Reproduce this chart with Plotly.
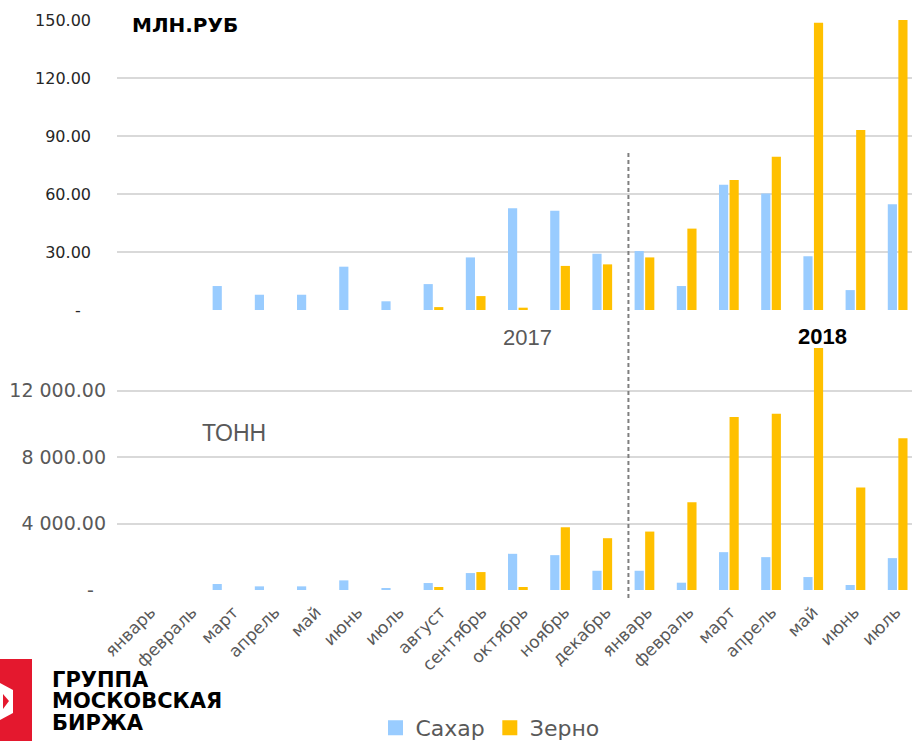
import plotly.graph_objects as go

months = ["январь", "февраль", "март", "апрель", "май", "июнь", "июль", "август",
          "сентябрь", "октябрь", "ноябрь", "декабрь",
          "январь", "февраль", "март", "апрель", "май", "июнь", "июль"]
x_idx = list(range(len(months)))

sugar_rub = [0, 0, 12.4, 7.9, 7.9, 22.4, 4.5, 13.4, 27.2, 52.6, 51.4, 29.1,
             30.5, 12.4, 64.8, 60.3, 27.8, 10.3, 54.7]
grain_rub = [0, 0, 0, 0, 0, 0, 0, 1.5, 7.2, 1.2, 22.8, 23.6,
             27.2, 42.1, 67.2, 79.3, 148.6, 93.1, 152.0]
sugar_t = [0, 0, 360, 220, 220, 580, 120, 420, 1020, 2180, 2100, 1160,
           1160, 440, 2280, 1980, 780, 300, 1920]
grain_t = [0, 0, 0, 0, 0, 0, 0, 180, 1080, 180, 3780, 3120,
           3520, 5280, 10420, 10620, 14600, 6180, 9150]

top_ticks = [0, 30, 60, 90, 120, 150]
top_ticktext = ["-\u00a0\u00a0", "30.00", "60.00", "90.00", "120.00", "150.00"]
bot_ticks = [0, 4000, 8000, 12000]
bot_ticktext = ["-\u00a0\u00a0", "4 000.00", "8 000.00", "12 000.00"]

BLUE = "#99CCFF"
GOLD = "#FFC000"
W, H = 912, 741


def px(x):
    return x / W


def py(y):
    return 1 - y / H


fig = go.Figure()
bar_line = dict(width=0)
fig.add_trace(go.Bar(x=x_idx, y=sugar_rub, name="Сахар", marker=dict(color=BLUE, line=bar_line),
                     xaxis="x", yaxis="y", showlegend=False))
fig.add_trace(go.Bar(x=x_idx, y=grain_rub, name="Зерно", marker=dict(color=GOLD, line=bar_line),
                     xaxis="x", yaxis="y", showlegend=False))
fig.add_trace(go.Bar(x=x_idx, y=sugar_t, name="Сахар", marker=dict(color=BLUE, line=bar_line),
                     xaxis="x2", yaxis="y2", showlegend=False))
fig.add_trace(go.Bar(x=x_idx, y=grain_t, name="Зерно", marker=dict(color=GOLD, line=bar_line),
                     xaxis="x2", yaxis="y2", showlegend=False))
# legend entries with square swatches (also carry the month-label axis)
for name, col in [("Сахар", BLUE), ("Зерно", GOLD)]:
    fig.add_trace(go.Scatter(x=[None], y=[None], mode="markers", name=name,
                             marker=dict(symbol="square", size=15, color=col),
                             xaxis="x3", yaxis="y2"))

xrange = [-0.5, 18.34]
label_range = [-0.81, 18.39]
grid = "#D9D9D9"
fig.update_layout(
    template="none",
    width=W, height=H,
    margin=dict(l=0, r=0, t=0, b=0, autoexpand=False),
    paper_bgcolor="white", plot_bgcolor="white",
    barmode="group", bargap=0.5, bargroupgap=0.13,
    font=dict(family="DejaVu Sans", color="#595959"),
    xaxis=dict(domain=[px(117), 1], range=xrange, anchor="y", automargin=False,
               showticklabels=False, showgrid=False, zeroline=False, showline=False, ticks=""),
    yaxis=dict(domain=[py(310), py(20)], range=[0, 150], anchor="x", automargin=False,
               tickvals=top_ticks, ticktext=top_ticktext,
               tickfont=dict(size=16, color="#262626", family="DejaVu Sans"),
               showgrid=True, gridcolor=grid, gridwidth=1.5,
               zeroline=False, showline=False, ticks="", ticklabelstandoff=25),
    xaxis2=dict(domain=[px(117), 1], range=xrange, anchor="y2", automargin=False,
                showticklabels=False, showgrid=False, zeroline=False, showline=False, ticks=""),
    xaxis3=dict(domain=[px(117), 1], range=label_range, anchor="y2", overlaying="x2",
                automargin=False, tickvals=x_idx, ticktext=months, tickangle=-45,
                tickfont=dict(size=17, color="#595959", family="DejaVu Sans"),
                showgrid=False, zeroline=False, showline=False, ticks="",
                ticklabelstandoff=8, ticklabeloverflow="allow"),
    yaxis2=dict(domain=[py(590), py(348)], range=[0, 14580], anchor="x2", automargin=False,
                tickvals=bot_ticks, ticktext=bot_ticktext,
                tickfont=dict(size=19, color="#595959", family="DejaVu Sans"),
                showgrid=True, gridcolor=grid, gridwidth=1.5,
                zeroline=False, showline=False, ticks="", ticklabelstandoff=10),
    legend=dict(orientation="h", x=px(490), xanchor="center", y=py(728),
                yanchor="middle", font=dict(size=22, color="#595959", family="DejaVu Sans"),
                itemwidth=30, tracegroupgap=0, bgcolor="rgba(0,0,0,0)"),
)

# divider between years
fig.add_shape(type="line", xref="x", yref="paper", x0=11.62, x1=11.62,
              y0=py(598), y1=py(153),
              line=dict(color="#7F7F7F", width=2, dash="4px,3px"))

# annotations
fig.add_annotation(text="<b>МЛН.РУБ</b>", xref="paper", yref="paper",
                   x=px(130), y=py(25), xanchor="left", yanchor="middle",
                   showarrow=False, font=dict(size=20, color="black", family="DejaVu Sans"))
fig.add_annotation(text="ТОНН", xref="paper", yref="paper",
                   x=px(234), y=py(433), xanchor="center", yanchor="middle",
                   showarrow=False, font=dict(size=23, color="#595959", family="Liberation Sans"))
fig.add_annotation(text="2017", xref="paper", yref="paper",
                   x=px(527), y=py(337), xanchor="center", yanchor="middle",
                   showarrow=False, font=dict(size=22, color="#595959", family="Liberation Sans"))
fig.add_annotation(text="<b>2018</b>", xref="paper", yref="paper",
                   x=px(822), y=py(336), xanchor="center", yanchor="middle",
                   showarrow=False, font=dict(size=22, color="black", family="Liberation Sans"))

# logo
fig.add_shape(type="rect", xref="paper", yref="paper",
              x0=px(0), x1=px(32), y0=py(741), y1=py(659),
              fillcolor="#E4182E", line=dict(width=0), layer="above")
fig.add_shape(type="path", xref="paper", yref="paper",
              path=(f"M {px(0)},{py(683)} L {px(13)},{py(690)} L {px(13)},{py(713)} "
                    f"L {px(0)},{py(720)} Z"),
              fillcolor="white", line=dict(width=0), layer="above")
fig.add_shape(type="path", xref="paper", yref="paper",
              path=(f"M {px(3)},{py(694)} L {px(9)},{py(701)} L {px(3)},{py(709)} Z"),
              fillcolor="#E4182E", line=dict(width=0), layer="above")
logo_lines = ["ГРУППА", "МОСКОВСКАЯ", "БИРЖА"]
logo_y = [680, 701, 723]
for txt, yy in zip(logo_lines, logo_y):
    fig.add_annotation(text=f"<b>{txt}</b>", xref="paper", yref="paper",
                       x=px(50), y=py(yy), xanchor="left", yanchor="middle", align="left",
                       showarrow=False,
                       font=dict(size=21, color="black", family="DejaVu Sans"))

fig.write_html("out.html", config={"displayModeBar": False},
               post_script="document.body.style.margin='0';")
